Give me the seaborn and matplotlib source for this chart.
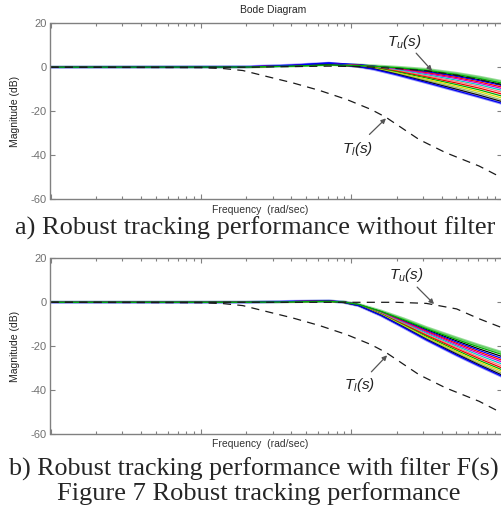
import numpy as np
import matplotlib
matplotlib.use("Agg")
import matplotlib.pyplot as plt
import seaborn as sns

# ==========================================================
# Data (frequency in rad/sec, magnitude in dB)
# ==========================================================

# lower bound T_l(s), same in both panels
freq_tl = [0.1, 1.0, 1.41, 1.9, 2.7, 4.07, 6.17, 9.33, 13.5, 17.0, 28.2, 42.4, 70.8, 100.0]
mag_tl = [0.0, -0.2, -0.6, -1.5, -4.1, -7.1, -10.6, -14.7, -19.2, -22.8, -32.9, -38.9, -45.0, -50.3]

# upper bound T_u(s)
freq_tu = [0.1, 2.0, 4.0, 7.1, 11.2, 14.1, 20.0, 31.6, 50.1, 70.8, 100.0]
mag_tu_a = [0.0, 0.0, 0.3, 0.5, 0.3, 0.0, -0.6, -1.6, -3.6, -5.6, -8.0]
mag_tu_b = [0.0, 0.0, 0.0, 0.0, 0.0, 0.0, 0.0, -0.5, -3.0, -7.5, -11.5]

# a) closed loop family without filter
freq_a = [0.1, 2.0, 4.0, 7.1, 11.2, 14.1, 20.0, 31.6, 50.1, 70.8, 100.0]
curves_a = [
    [0, 0.1, 0.6, 1.2, 1.0, 0.6, 0.0, -1.0, -2.8, -4.5, -6.5],
    [0, 0.1, 0.7, 1.6, 1.0, 0.4, -0.4, -1.8, -3.8, -5.7, -7.8],
    [0, 0.2, 0.9, 2.0, 1.2, 0.5, -0.5, -2.1, -4.2, -6.1, -8.3],
    [0, 0.1, 0.6, 1.5, 0.9, 0.3, -0.7, -2.5, -4.7, -6.7, -9.0],
    [0, 0.2, 0.8, 1.4, 0.8, 0.2, -0.9, -2.9, -5.2, -7.3, -9.7],
    [0, 0.1, 0.5, 1.2, 0.6, 0.0, -1.2, -3.4, -5.9, -8.0, -10.5],
    [0, 0.1, 0.6, 1.3, 0.6, -0.1, -1.5, -3.9, -6.5, -8.7, -11.3],
    [0, 0.1, 0.7, 1.4, 0.5, -0.2, -1.8, -4.4, -7.2, -9.5, -12.2],
    [0, 0.1, 0.5, 1.1, 0.4, -0.3, -2.1, -4.9, -7.9, -10.3, -13.1],
    [0, 0.1, 0.6, 1.2, 0.3, -0.5, -2.5, -5.5, -8.6, -11.1, -14.0],
    [0, 0.1, 0.5, 1.0, 0.2, -0.6, -2.8, -6.0, -9.3, -11.9, -14.9],
    [0, 0.1, 0.6, 1.3, 0.2, -0.7, -3.1, -6.5, -10.0, -12.7, -15.6],
    [0, 0.2, 0.9, 1.8, 0.3, -0.9, -3.4, -7.0, -10.7, -13.5, -16.4],
    [0, 0.1, 0.5, 1.0, 0.8, 0.4, -0.2, -1.4, -3.3, -5.1, -7.2],
]

# b) closed loop family with prefilter F(s)
freq_b = [0.1, 2.0, 4.0, 7.1, 8.9, 11.2, 15.8, 22.4, 31.6, 50.1, 70.8, 100.0]
curves_b = [
    [0, 0, 0.3, 0.5, 0.2, -1.0, -4.0, -7.6, -11.5, -16.2, -19.6, -22.8],
    [0, 0, 0.3, 0.5, 0.2, -1.1, -4.3, -8.3, -12.4, -17.5, -21.2, -24.6],
    [0, 0, 0.4, 0.6, 0.2, -1.1, -4.5, -8.6, -12.8, -18.1, -21.9, -25.5],
    [0, 0, 0.3, 0.5, 0.1, -1.2, -4.6, -8.9, -13.2, -18.7, -22.6, -26.3],
    [0, 0, 0.3, 0.4, 0.1, -1.2, -4.8, -9.2, -13.6, -19.3, -23.3, -27.1],
    [0, 0, 0.2, 0.4, 0.0, -1.3, -5.0, -9.5, -14.1, -19.9, -24.1, -28.0],
    [0, 0, 0.3, 0.5, 0.0, -1.3, -5.1, -9.8, -14.6, -20.5, -24.9, -28.9],
    [0, 0, 0.3, 0.5, 0.0, -1.4, -5.3, -10.1, -15.0, -21.1, -25.6, -29.8],
    [0, 0, 0.2, 0.4, 0.0, -1.4, -5.4, -10.4, -15.5, -21.8, -26.4, -30.6],
    [0, 0, 0.3, 0.4, -0.1, -1.4, -5.6, -10.7, -16.0, -22.4, -27.1, -31.4],
    [0, 0, 0.2, 0.4, -0.1, -1.5, -5.7, -11.0, -16.4, -23.0, -27.8, -32.2],
    [0, 0, 0.3, 0.5, -0.1, -1.5, -5.9, -11.3, -16.8, -23.5, -28.4, -33.0],
    [0, 0, 0.4, 0.6, 0.0, -1.5, -6.0, -11.5, -17.1, -24.0, -28.9, -33.6],
    [0, 0, 0.2, 0.4, 0.1, -1.0, -4.2, -8.0, -12.0, -16.9, -20.4, -23.7],
]

line_colors = ["#66cc66", "#000000", "#0000ff", "#ff0000", "#cc00cc", "#00cccc",
               "#ff7777", "#ee0000", "#00aa00", "#dddd00", "#99bb66", "#111111",
               "#0000ee", "#00b000"]
halo_colors = ["#99dd99", None, None, None, None, None, None, None, None, None,
               None, None, "#9999ff", None]

captions = ["a) Robust tracking performance without filter",
            "b) Robust tracking performance with filter F(s)",
            "Figure 7 Robust tracking performance"]

# ==========================================================
# Style
# ==========================================================

sns.set_style("white")
plt.rcParams["font.family"] = ["Liberation Sans", "DejaVu Sans"]
plt.rcParams["axes.unicode_minus"] = False
plt.rcParams["mathtext.fontset"] = "custom"
plt.rcParams["mathtext.it"] = "Liberation Sans:italic"
plt.rcParams["mathtext.rm"] = "Liberation Sans:italic"

W, H = 502, 514
fig = plt.figure(figsize=(W / 100, H / 100), dpi=100)
fig.patch.set_facecolor("white")


def px(x, y):
    return x / W, 1 - y / H


def draw_panel(ax, freq, curves, mag_tu, tu_lab, tu_tail, tu_tip, tl_lab, tl_tail, tl_tip):
    # halos first, then the family, then dashed bounds on top
    for curve, hc in zip(curves, halo_colors):
        if hc is not None:
            sns.lineplot(x=freq, y=curve, ax=ax, color=hc, lw=2.2, sort=False)
    for curve, c in zip(curves, line_colors):
        sns.lineplot(x=freq, y=curve, ax=ax, color=c, lw=0.9, sort=False)
    sns.lineplot(x=freq_tl, y=mag_tl, ax=ax, color="#1a1a1a", lw=0.9,
                 linestyle=(0, (6.5, 5)), sort=False)
    sns.lineplot(x=freq_tu, y=mag_tu, ax=ax, color="#1a1a1a", lw=0.9,
                 linestyle=(0, (6.5, 5)), sort=False)

    ax.set_xscale("log")
    ax.set_xlim(0.1, 100)
    ax.set_ylim(-60, 20)
    ax.set_yticks([-60, -40, -20, 0, 20])
    ax.tick_params(axis="x", which="both", labelbottom=False)
    ax.tick_params(which="both", direction="in", top=True, right=True,
                   bottom=True, left=True, color="#808080", width=0.8)
    ax.tick_params(which="major", length=3.8)
    ax.tick_params(which="minor", length=2.2)
    ax.tick_params(axis="y", labelsize=8, labelcolor="#707070", pad=3)
    ax.set_xlabel("")
    ax.set_ylabel("")
    for s in ax.spines.values():
        s.set_color("#808080")
        s.set_linewidth(1.0)

    arrow = dict(arrowstyle="-|>", color="#555555", lw=0.9, mutation_scale=7,
                 shrinkA=0, shrinkB=0)
    ax.annotate("", xy=tu_tip, xytext=tu_tail, arrowprops=arrow)
    ax.annotate("", xy=tl_tip, xytext=tl_tail, arrowprops=arrow)
    ax.text(tu_lab[0], tu_lab[1], r"$T_u(s)$", fontsize=11,
            ha="center", va="center", color="#222222")
    ax.text(tl_lab[0], tl_lab[1], r"$T_l(s)$", fontsize=11,
            ha="center", va="center", color="#222222")


# ==========================================================
# Panel a
# ==========================================================

ax1 = fig.add_axes([50.5 / W, 1 - 199 / H, 451.2 / W, 175.7 / H])
draw_panel(ax1, freq_a, curves_a, mag_tu_a,
           (22.4, 11.5), (27.0, 6.4), (34.4, -1.6),
           (11.0, -37.4), (13.2, -30.6), (17.0, -23.3))

# ==========================================================
# Panel b
# ==========================================================

ax2 = fig.add_axes([50.5 / W, 1 - 434.3 / H, 451.2 / W, 176.0 / H])
draw_panel(ax2, freq_b, curves_b, mag_tu_b,
           (23.1, 12.2), (27.4, 6.9), (35.5, -0.8),
           (11.3, -37.7), (13.6, -31.6), (17.3, -24.1))

# ==========================================================
# Texts
# ==========================================================

fig.text(*px(273, 10), "Bode Diagram", ha="center", va="center", fontsize=7.5)
fig.text(*px(15, 111), "Magnitude (dB)", ha="center", va="center",
         rotation=90, fontsize=7.5, color="#222222")
fig.text(*px(15, 346), "Magnitude (dB)", ha="center", va="center",
         rotation=90, fontsize=7.5, color="#222222")
fig.text(*px(260, 210), "Frequency  (rad/sec)", ha="center", va="center",
         fontsize=7.5, color="#333333")
fig.text(*px(260, 444), "Frequency  (rad/sec)", ha="center", va="center",
         fontsize=7.5, color="#333333")

serif = ["Liberation Serif", "DejaVu Serif"]
fig.text(*px(255, 228), captions[0], ha="center", va="center",
         fontsize=19, family=serif)
fig.text(*px(254, 469), captions[1], ha="center", va="center",
         fontsize=18.7, family=serif)
fig.text(*px(259, 494), captions[2], ha="center",
         va="center", fontsize=19, family=serif)

fig.savefig("out.png", dpi=100)
